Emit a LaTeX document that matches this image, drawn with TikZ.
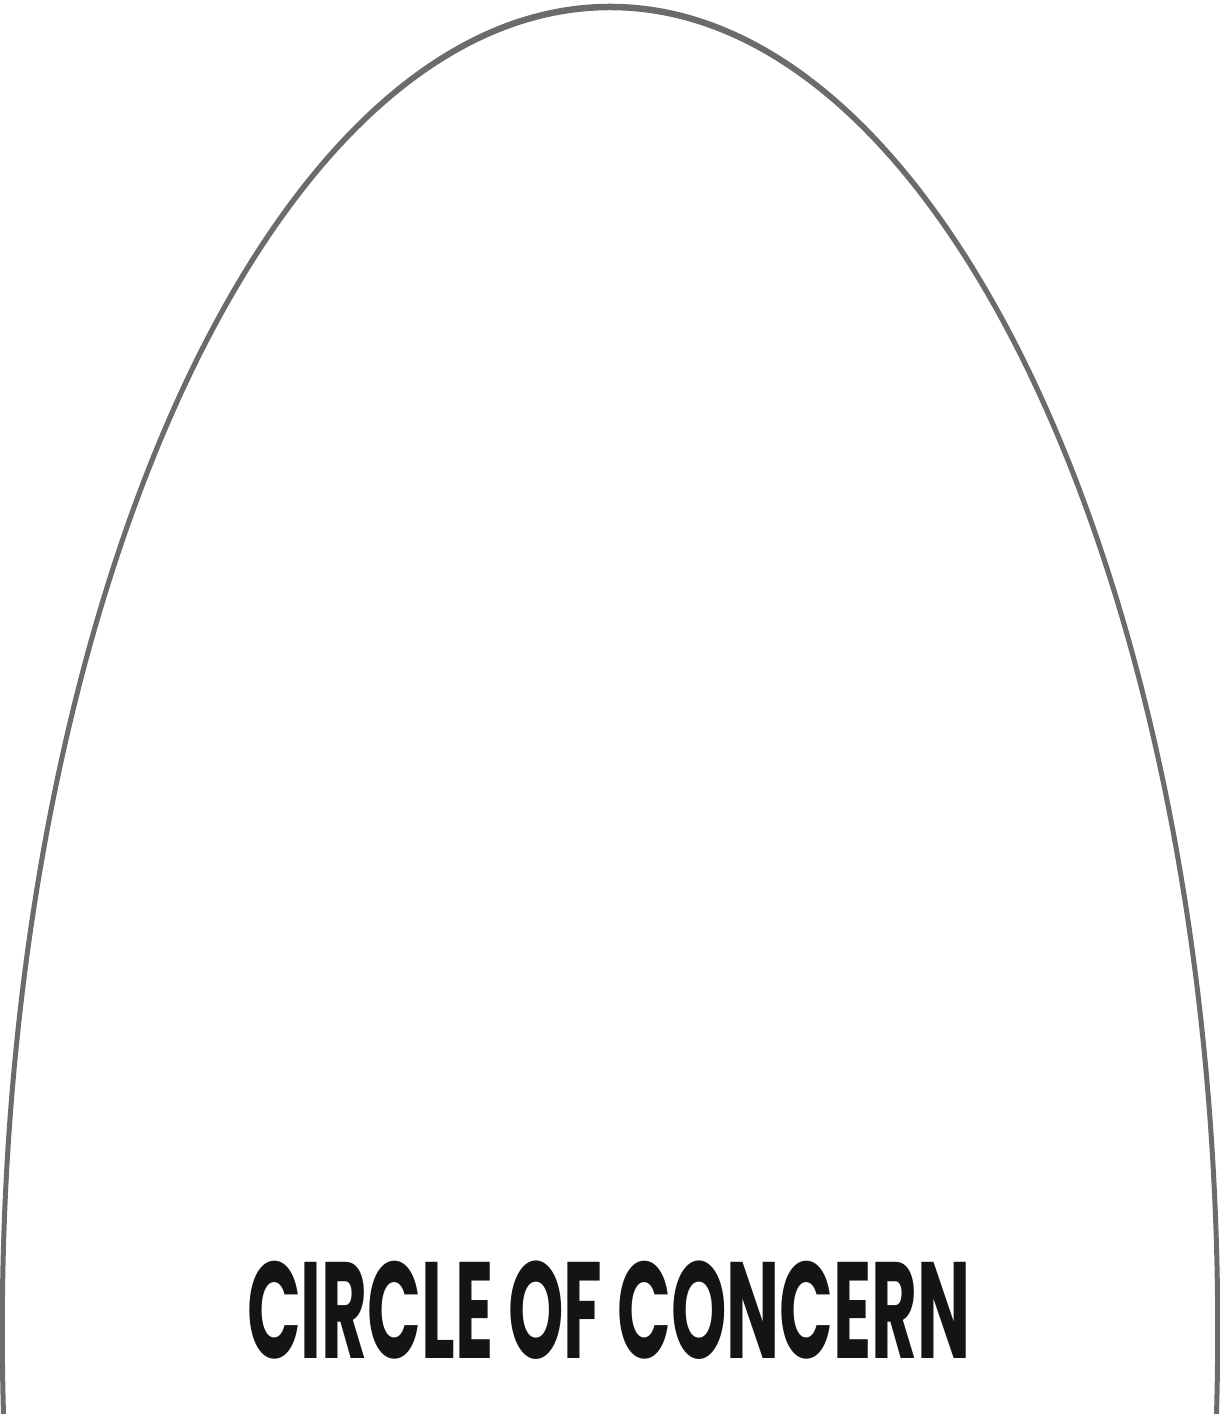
\documentclass[tikz,border=0pt]{standalone}
\usepackage{fontspec}
\setmainfont{Poppins}
\usepackage{tikz}
\usetikzlibrary{positioning}

\begin{document}
\begin{tikzpicture}[
        rim/.style={fill=black!58, even odd rule},
        title/.style={font=\fontsize{78}{80}\selectfont\bfseries, text=black!92, inner sep=0pt, anchor=base}
    ]
        \useasboundingbox (0, 0) rectangle (24.4, 28.28);
        \clip (0, 0) rectangle (24.4, 28.28);
        \fill[rim] (12.2, 1.68) ellipse[x radius=12.204, y radius=26.525]
                   (12.2, 1.68) ellipse[x radius=12.104, y radius=26.395];
        \node[title] (concern) at (12.18, 1.12) {\scalebox{0.515}[1]{CIRCLE OF CONCERN}};
    \end{tikzpicture}
\end{document}
